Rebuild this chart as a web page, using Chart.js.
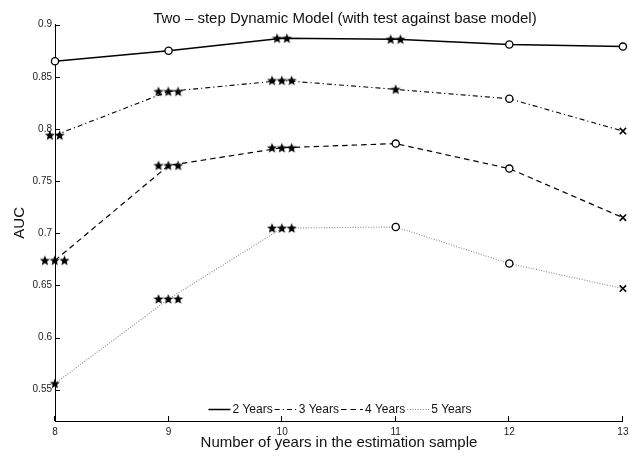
<!DOCTYPE html>
<html><head><meta charset="utf-8">
<script src="https://cdn.jsdelivr.net/npm/chart.js@4/dist/chart.umd.min.js"></script>
<style>html,body{margin:0;padding:0;background:#fff}#wrap{width:629px;height:457px;position:relative}</style>
</head><body><div id="wrap"><canvas id="c"></canvas></div>
<script>
const chartTitle = 'Two \u2013 step Dynamic Model (with test against base model)';
const xTitle = 'Number of years in the estimation sample';
const yTitle = 'AUC';
const categories = [8, 9, 10, 11, 12, 13];
const seriesNames = ['2 Years', '3 Years', '4 Years', '5 Years'];
const auc2 = [0.865, 0.875, 0.887, 0.886, 0.881, 0.879];
const auc3 = [0.794, 0.836, 0.8465, 0.838, 0.829, 0.798];
const auc4 = [0.674, 0.765, 0.782, 0.786, 0.762, 0.715];
const auc5 = [0.556, 0.637, 0.705, 0.706, 0.671, 0.647];
// marker per point: significance stars, 'o' = circle, 'x' = cross
const sig2 = ['o', 'o', '**', '**', 'o', 'o'];
const sig3 = ['**', '***', '***', '*', 'o', 'x'];
const sig4 = ['***', '***', '***', 'o', 'o', 'x'];
const sig5 = ['*', '***', '***', 'o', 'o', 'x'];
const yTicks = [0.55, 0.6, 0.65, 0.7, 0.75, 0.8, 0.85, 0.9];
const xTicks = [8, 9, 10, 11, 12, 13];

const FONT = '"Liberation Sans", Arial, Helvetica, sans-serif';

function starCanvas(n) {
  const step = 9.8, R = 5.3, r = 2.3;
  const cv = document.createElement('canvas');
  cv.width = Math.ceil(n * step + 2);
  cv.height = 12;
  const c = cv.getContext('2d');
  c.fillStyle = '#000';
  for (let k = 0; k < n; k++) {
    const cx = 1 + step / 2 + k * step, cy = 6.4;
    c.beginPath();
    for (let i = 0; i < 10; i++) {
      const rad = i % 2 === 0 ? R : r;
      const a = -Math.PI / 2 + i * Math.PI / 5;
      const px = cx + rad * Math.cos(a), py = cy + rad * Math.sin(a);
      if (i === 0) c.moveTo(px, py); else c.lineTo(px, py);
    }
    c.closePath();
    c.fill();
  }
  return cv;
}
const starCache = {};
function markerStyle(s) {
  if (s === 'o') return 'circle';
  if (s === 'x') return 'crossRot';
  if (!starCache[s]) starCache[s] = starCanvas(s.length);
  return starCache[s];
}
function pts(vals) { return categories.map((x, i) => ({x: x, y: vals[i]})); }

function makeSet(label, vals, sig, color, width, dash) {
  return {
    label: label,
    data: pts(vals),
    clip: false,
    borderColor: color,
    borderWidth: width,
    borderDash: dash,
    tension: 0,
    fill: false,
    pointStyle: sig.map(markerStyle),
    pointRadius: sig.map(s => s === 'x' ? 4.5 : 3.6),
    pointBorderWidth: sig.map(s => s === 'x' ? 1.6 : 1.3),
    pointBorderColor: '#000',
    pointBackgroundColor: '#fff'
  };
}

const datasets = [
  makeSet(seriesNames[0], auc2, sig2, '#000', 1.5, []),
  makeSet(seriesNames[1], auc3, sig3, '#000', 1.1, [5, 3, 1.2, 3]),
  makeSet(seriesNames[2], auc4, sig4, '#000', 1.2, [5.5, 4]),
  makeSet(seriesNames[3], auc5, sig5, '#8a8a8a', 1.1, [1, 1.6])
];

const decor = {
  id: 'decor',
  afterDraw(chart) {
    const ctx = chart.ctx, a = chart.chartArea;
    const xs = chart.scales.x, ys = chart.scales.y;
    ctx.save();
    // inward tick marks
    ctx.strokeStyle = '#000';
    ctx.lineWidth = 1;
    ctx.beginPath();
    yTicks.forEach(v => {
      const y = Math.round(ys.getPixelForValue(v)) + 0.5;
      ctx.moveTo(a.left, y); ctx.lineTo(a.left + 5, y);
    });
    xTicks.forEach(v => {
      const x = Math.round(xs.getPixelForValue(v)) - 0.5;
      ctx.moveTo(x, a.bottom); ctx.lineTo(x, a.bottom - 5);
    });
    ctx.stroke();
    // title
    ctx.fillStyle = '#111';
    ctx.font = '15px ' + FONT;
    ctx.textAlign = 'center';
    ctx.textBaseline = 'alphabetic';
    ctx.fillText(chartTitle, (a.left + a.right) / 2 + 6, 22.5);
    // legend
    ctx.font = '12px ' + FONT;
    ctx.textAlign = 'left';
    ctx.textBaseline = 'middle';
    const lineLen = 22, gap = 2;
    const ds = chart.data.datasets;
    let total = 0;
    ds.forEach(d => { total += lineLen + gap + ctx.measureText(d.label).width + gap; });
    let x = (a.left + a.right) / 2 + 2 - total / 2;
    const ly = 409;
    ds.forEach(d => {
      ctx.beginPath();
      ctx.strokeStyle = d.borderColor;
      ctx.lineWidth = d.borderWidth;
      ctx.setLineDash(d.borderDash);
      ctx.moveTo(x, ly + 0.5); ctx.lineTo(x + lineLen, ly + 0.5);
      ctx.stroke();
      ctx.setLineDash([]);
      ctx.fillStyle = '#111';
      ctx.fillText(d.label, x + lineLen + gap, ly + 1);
      x += lineLen + gap + ctx.measureText(d.label).width + gap;
    });
    ctx.restore();
  }
};

new Chart(document.getElementById('c'), {
  type: 'line',
  data: {datasets: datasets},
  plugins: [decor],
  options: {
    responsive: true,
    maintainAspectRatio: false,
    animation: false,
    events: [],
    layout: {padding: {top: 24.7, right: 5, bottom: 0, left: 0}},
    plugins: {legend: {display: false}, tooltip: {enabled: false}, title: {display: false}},
    scales: {
      x: {
        type: 'linear',
        min: 8, max: 13,
        afterBuildTicks: s => { s.ticks = xTicks.map(v => ({value: v})); },
        afterFit: s => { s.height = 36; s.paddingLeft = 0; s.paddingRight = 0; },
        grid: {display: true, drawOnChartArea: false, drawTicks: false},
        border: {display: true, color: '#000', width: 1},
        ticks: {padding: 5, color: '#222', font: {size: 10, family: FONT}, maxRotation: 0, autoSkip: false},
        title: {display: true, text: xTitle, color: '#111', font: {size: 15, family: FONT}, padding: {top: 5, bottom: 5}}
      },
      y: {
        type: 'linear',
        min: 0.52, max: 0.9,
        afterBuildTicks: s => { s.ticks = yTicks.map(v => ({value: v})); },
        afterFit: s => { s.width = 55; s.paddingTop = 0; s.paddingBottom = 0; },
        grid: {display: true, drawOnChartArea: false, drawTicks: false},
        border: {display: true, color: '#000', width: 1},
        ticks: {padding: 3, color: '#222', font: {size: 10, family: FONT}, callback: v => String(v)},
        title: {display: true, text: yTitle, color: '#111', font: {size: 15, family: FONT}, padding: {top: 11, bottom: 11}}
      }
    }
  }
});
</script></body></html>
